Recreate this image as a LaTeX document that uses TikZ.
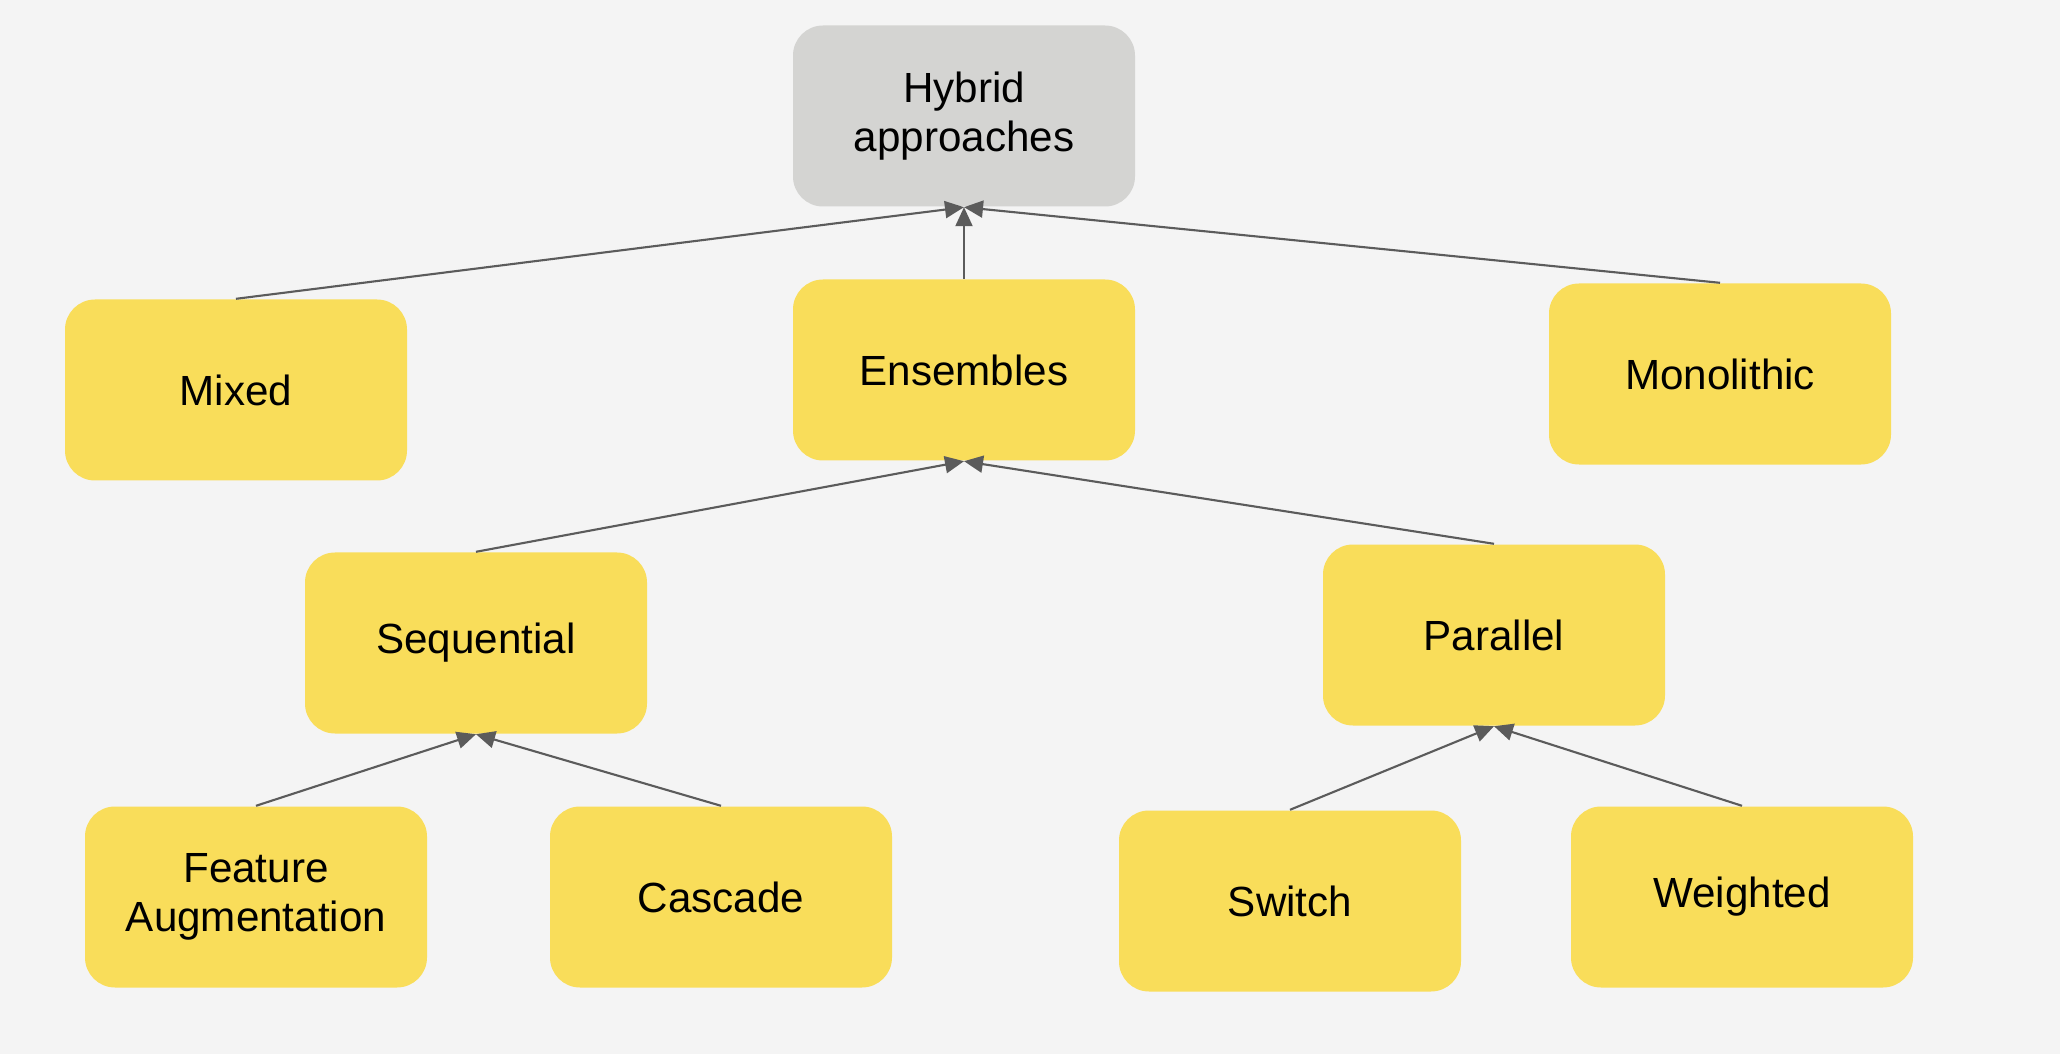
\documentclass[tikz,border=0pt]{standalone}
\usepackage{fontspec}
\setmainfont{Liberation Sans}
\usetikzlibrary{arrows.meta}
\definecolor{bgcol}{HTML}{F4F4F4}
\definecolor{boxyellow}{HTML}{F9DD5A}
\definecolor{boxgray}{HTML}{D4D4D2}
\definecolor{linegray}{HTML}{5B5B5B}
\tikzset{
  approach/.style={rounded corners=0.3cm, fill=boxyellow, minimum width=3.42cm,
    minimum height=1.81cm, align=center, font=\fontsize{12}{14}\selectfont},
  root/.style={approach, fill=boxgray},
  edge/.style={draw=linegray, line width=0.6pt,
    -{Triangle[length=0.19cm, width=0.17cm]}}
}
\begin{document}
\begin{tikzpicture}
        \fill[bgcol] (0,0) rectangle (20.6,-10.54);
        \useasboundingbox (0,0) rectangle (20.6,-10.54);
        % top
        \node[root] (hybrid) at (9.64,-1.16) {Hybrid\\approaches};
        % second row
        \node[approach] (mixed) at (2.36,-3.90) {Mixed};
        \node[approach] (ensembles) at (9.64,-3.70) {Ensembles};
        \node[approach] (monolithic) at (17.20,-3.74) {Monolithic};
        % third row
        \node[approach] (sequential) at (4.76,-6.43) {Sequential};
        \node[approach] (parallel) at (14.94,-6.35) {Parallel};
        % bottom
        \node[approach] (feature) at (2.56,-8.97) {Feature\\Augmentation};
        \node[approach] (cascade) at (7.21,-8.97) {Cascade};
        \node[approach] (switch) at (12.90,-9.01) {Switch};
        \node[approach] (weighted) at (17.42,-8.97) {Weighted};
        \foreach \child/\parent in {mixed/hybrid, ensembles/hybrid, monolithic/hybrid,
          sequential/ensembles, parallel/ensembles,
          feature/sequential, cascade/sequential,
          switch/parallel, weighted/parallel} {
          \draw[edge] (\child.north) -- (\parent.south);
        }
      \end{tikzpicture}
\end{document}
